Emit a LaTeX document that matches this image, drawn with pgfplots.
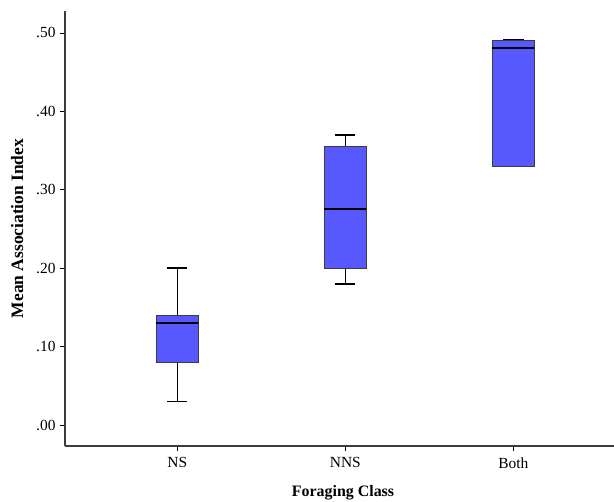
\documentclass[border=0pt]{standalone}
\usepackage{pgfplots}
\pgfplotsset{compat=1.18}
\usepgfplotslibrary{statistics}
\usepackage{fontspec}
\setmainfont{Liberation Serif}
\definecolor{boxfill}{RGB}{88,88,255}
\definecolor{frame}{RGB}{60,60,60}
\begin{document}
\begin{tikzpicture}
\path[use as bounding box] (-65bp,-56bp) rectangle (549bp,446bp);
\begin{axis}[
  at={(0,0)}, anchor=south west,
  scale only axis,
  width=556bp, height=435bp,
  xmin=0.332, xmax=3.64,
  ymin=-0.0268, ymax=0.528,
  axis x line*=bottom, axis y line*=left,
  axis line style={frame, line width=1.2pt},
  every outer x axis line/.append style={-},
  every outer y axis line/.append style={-},
  clip=false,
  xtick={1,2,3}, xticklabels={NS,NNS,Both},
  ytick={0,0.1,0.2,0.3,0.4,0.5},
  yticklabels={.00,.10,.20,.30,.40,.50},
  tick align=outside,
  major tick length=5bp,
  tick style={black, line width=0.9pt},
  tick label style={font=\fontsize{15.5}{17}\selectfont},
  xticklabel style={yshift=-3bp},
  yticklabel style={xshift=-1bp},
  xlabel={\textbf{Foraging Class}},
  ylabel={\textbf{Mean Association Index}},
  xlabel style={font=\fontsize{16}{18}\selectfont, yshift=-10bp},
  ylabel style={font=\fontsize{17.5}{19}\selectfont, yshift=6bp},
  /pgf/number format/assume math mode=true,
  boxplot/draw direction=y,
  boxplot/box extend=0.25,
  boxplot/whisker extend=0.12,
]
\addplot+[boxplot prepared={lower whisker=0.03, lower quartile=0.08, median=0.13, upper quartile=0.14, upper whisker=0.20, draw position=1,
  every median/.style={black, line width=2.3pt}, every whisker/.style={black, line width=1.4pt}},
  draw=frame, fill=boxfill, line width=0.9pt, mark=none, solid] coordinates {};
\addplot+[boxplot prepared={lower whisker=0.18, lower quartile=0.20, median=0.2755, upper quartile=0.3555, upper whisker=0.37, draw position=2,
  every median/.style={black, line width=2.3pt}, every whisker/.style={black, line width=1.4pt}},
  draw=frame, fill=boxfill, line width=0.9pt, mark=none, solid] coordinates {};
\addplot+[boxplot prepared={lower whisker=0.33, lower quartile=0.33, median=0.4805, upper quartile=0.491, upper whisker=0.491, draw position=3,
  every median/.style={black, line width=2.3pt}, every whisker/.style={black, line width=1.4pt}},
  draw=frame, fill=boxfill, line width=0.9pt, mark=none, solid] coordinates {};
\end{axis}
\end{tikzpicture}
\end{document}
